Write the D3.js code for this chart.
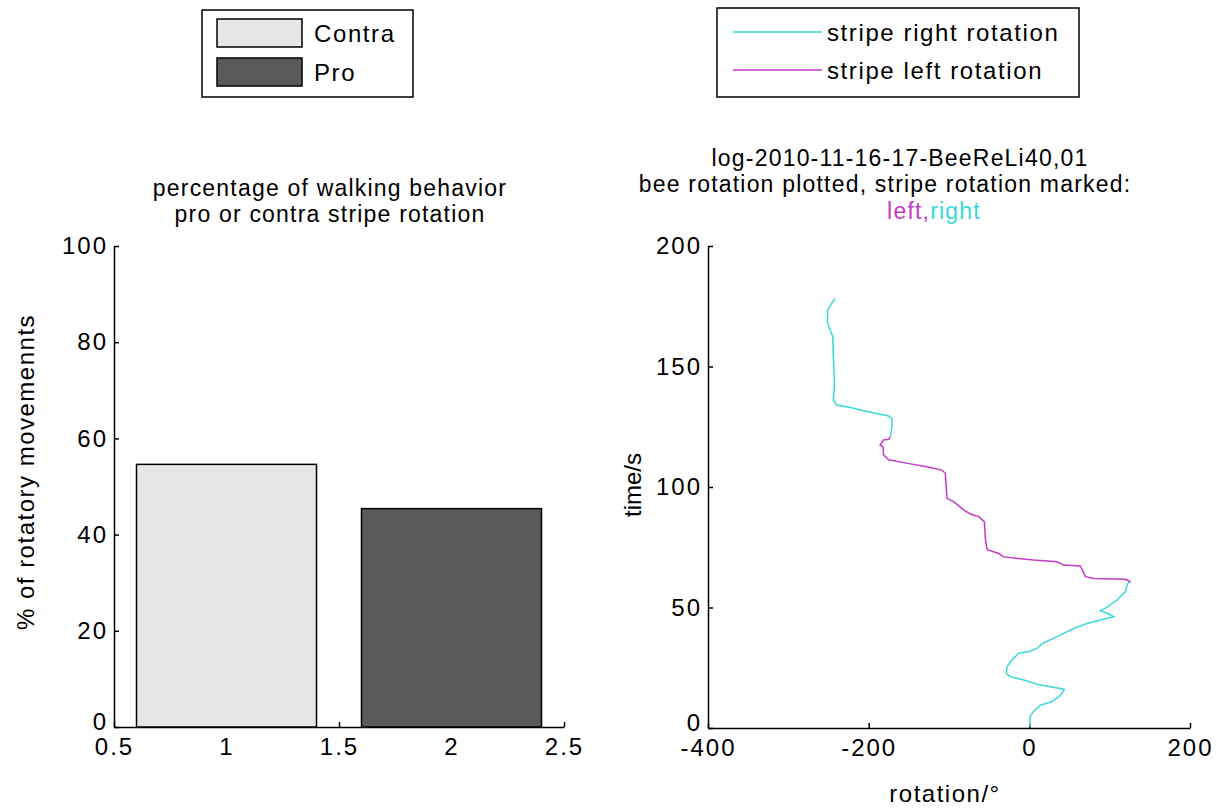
<!DOCTYPE html>
<html>
<head>
<meta charset="utf-8">
<script src="https://cdn.jsdelivr.net/npm/d3@7"></script>
<style>
  body { margin: 0; background: #fff; }
  svg text { font-family: "Liberation Sans", Arial, sans-serif; font-size: 24px; fill: #000; }
  .axis path, .axis line { stroke: #000; stroke-width: 1.5; }
  .axis text { font-size: 24px; letter-spacing: 2px; }
  .title { font-size: 23px; letter-spacing: 1.2px; }
  .label { letter-spacing: 1.5px; }
  .legend text { letter-spacing: 1.6px; }
</style>
</head>
<body>
<svg id="chart" width="1223" height="809"></svg>
<script>
// bar chart data
const barCategories = [1, 2];
const barNames = ["Contra", "Pro"];
const barValues = [54.6, 45.4];
const barColors = ["#e6e6e6", "#5a5a5a"];
const barTicksX = [0.5, 1, 1.5, 2, 2.5];
const barTicksY = [0, 20, 40, 60, 80, 100];

// trajectory data: [rotation in degrees, time in s]
const rightSegment1 = [
  [0.4, 0.5], [1, 4.7], [5, 6.8], [13.7, 9.5], [28, 10.9], [36.5, 13], [40.7, 14.4],
  [43.6, 16], [38.6, 16.4], [13.7, 17.8], [-7, 19.9], [-23.7, 21.3], [-28.6, 22.7],
  [-27.8, 25.4], [-21.6, 28.2], [-13.3, 31], [-0.8, 31.7], [9.6, 33], [15.9, 35],
  [34.5, 37.9], [55.3, 41.3], [72, 43.4], [88.5, 44.8], [105, 46.2], [96.8, 47.6],
  [88.5, 48.7], [94.7, 49.7], [109.3, 53.1], [119.6, 56.6], [122.5, 60], [125.9, 60.7]
];
const leftSegment = [
  [125.9, 60.7], [119.6, 61.7], [80, 62], [69.8, 62.8], [63.6, 67.2], [42.8, 67.6],
  [34.5, 69], [5.4, 69.7], [-32, 71], [-38, 72.4], [-52.5, 74], [-54.6, 78],
  [-56, 85.6], [-63, 87.7], [-73.5, 88.8], [-81.8, 90.5], [-94.3, 93.9], [-102.5, 95.3],
  [-104.6, 105.7], [-108.8, 107], [-127.5, 108.4], [-148, 109.6], [-175, 111.3],
  [-181.5, 113.3], [-182, 116.7], [-185.7, 117.4], [-181.5, 119.5], [-175, 119.8], [-173, 120.9]
];
const rightSegment2 = [
  [-173, 120.9], [-171, 125], [-171, 128.4], [-175, 129.5], [-202, 131.3], [-223, 133],
  [-239.6, 134], [-244, 136], [-242.5, 143], [-244, 154], [-244.6, 162.4], [-248, 165],
  [-251.4, 168.6], [-251, 173.4], [-246, 176.2], [-242, 178.2]
];
const lineTicksX = [-400, -200, 0, 200];
const lineTicksY = [0, 50, 100, 150, 200];
const lineNames = ["stripe right rotation", "stripe left rotation"];
const cyan = "#3ad9d9";
const magenta = "#c43cc4";

const svg = d3.select("#chart");
const plain = (d) => String(d);

// ---------- left: bar chart ----------
const xBar = d3.scaleLinear().domain([0.5, 2.5]).range([114, 564]);
const yBar = d3.scaleLinear().domain([0, 100]).range([727, 246]);

svg.append("g")
  .attr("class", "axis")
  .attr("transform", "translate(0,727)")
  .call(d3.axisBottom(xBar).tickValues(barTicksX).tickSizeInner(-5).tickSizeOuter(0)
    .tickPadding(11).tickFormat(plain));

svg.append("g")
  .attr("class", "axis yaxis")
  .attr("transform", "translate(114,0)")
  .call(d3.axisLeft(yBar).tickValues(barTicksY).tickSizeInner(-5).tickSizeOuter(0)
    .tickPadding(6).tickFormat(plain));

svg.selectAll("rect.bar")
  .data(barValues)
  .enter()
  .append("rect")
  .attr("class", "bar")
  .attr("x", (d, i) => xBar(barCategories[i] - 0.4))
  .attr("width", (d, i) => xBar(barCategories[i] + 0.4) - xBar(barCategories[i] - 0.4))
  .attr("y", (d) => yBar(d))
  .attr("height", (d) => yBar(0) - yBar(d))
  .attr("fill", (d, i) => barColors[i])
  .attr("stroke", "#000")
  .attr("stroke-width", 1.5);

svg.append("text").attr("class", "title").attr("x", 330).attr("y", 196).attr("text-anchor", "middle")
  .text("percentage of walking behavior");
svg.append("text").attr("class", "title").attr("x", 330).attr("y", 222).attr("text-anchor", "middle")
  .text("pro or contra stripe rotation");
svg.append("text")
  .attr("class", "label")
  .attr("transform", "translate(34,472) rotate(-90)")
  .attr("text-anchor", "middle")
  .text("% of rotatory movemennts");

// bar legend
const barLegend = svg.append("g").attr("class", "legend");
barLegend.append("rect").attr("x", 202).attr("y", 10).attr("width", 211).attr("height", 87)
  .attr("fill", "#fff").attr("stroke", "#000").attr("stroke-width", 1.5);
barNames.forEach((name, i) => {
  barLegend.append("rect").attr("x", 217).attr("y", 19 + i * 39).attr("width", 85).attr("height", 28)
    .attr("fill", barColors[i]).attr("stroke", "#000").attr("stroke-width", 1.5);
  barLegend.append("text").attr("x", 314).attr("y", 42 + i * 39).text(name);
});

// ---------- right: rotation trajectory ----------
const xLine = d3.scaleLinear().domain([-400, 200]).range([708, 1190]);
const yLine = d3.scaleLinear().domain([0, 200]).range([728, 246]);

svg.append("g")
  .attr("class", "axis")
  .attr("transform", "translate(0,728)")
  .call(d3.axisBottom(xLine).tickValues(lineTicksX).tickSizeInner(-5).tickSizeOuter(0)
    .tickPadding(11).tickFormat(plain));

svg.append("g")
  .attr("class", "axis yaxis")
  .attr("transform", "translate(708,0)")
  .call(d3.axisLeft(yLine).tickValues(lineTicksY).tickSizeInner(-5).tickSizeOuter(0)
    .tickPadding(6).tickFormat(plain));

// the zero labels on the y axes sit a little higher, clear of the x labels
svg.selectAll(".yaxis .tick text").filter((d) => d === 0).attr("dy", "0.1em");

const line = d3.line().x((d) => xLine(d[0])).y((d) => yLine(d[1]));

[[rightSegment1, cyan], [leftSegment, magenta], [rightSegment2, cyan]].forEach(([seg, col]) => {
  svg.append("path")
    .datum(seg)
    .attr("d", line)
    .attr("fill", "none")
    .attr("stroke", col)
    .attr("stroke-width", 1.5);
});

svg.append("text").attr("class", "title").attr("x", 900).attr("y", 166).attr("text-anchor", "middle")
  .text("log-2010-11-16-17-BeeReLi40,01");
svg.append("text").attr("class", "title").attr("x", 885).attr("y", 192).attr("text-anchor", "middle")
  .text("bee rotation plotted, stripe rotation marked:");
const lr = svg.append("text").attr("class", "title").attr("x", 934).attr("y", 219).attr("text-anchor", "middle");
lr.append("tspan").style("fill", magenta).text("left,");
lr.append("tspan").style("fill", cyan).text("right");

svg.append("text")
  .attr("transform", "translate(641,485) rotate(-90)")
  .attr("text-anchor", "middle")
  .text("time/s");
svg.append("text").attr("class", "label").attr("x", 945).attr("y", 802).attr("text-anchor", "middle")
  .text("rotation/°");

// line legend
const lineLegend = svg.append("g").attr("class", "legend");
lineLegend.append("rect").attr("x", 717).attr("y", 8).attr("width", 362).attr("height", 89)
  .attr("fill", "#fff").attr("stroke", "#000").attr("stroke-width", 1.5);
[cyan, magenta].forEach((col, i) => {
  lineLegend.append("line").attr("x1", 733).attr("x2", 822)
    .attr("y1", 32 + i * 38).attr("y2", 32 + i * 38)
    .attr("stroke", col).attr("stroke-width", 1.5);
  lineLegend.append("text").attr("x", 827).attr("y", 41 + i * 38).text(lineNames[i]);
});
</script>
</body>
</html>
